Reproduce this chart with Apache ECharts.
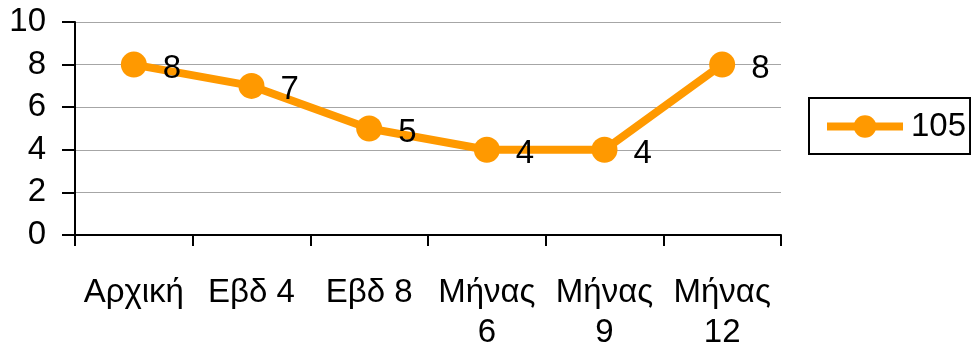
<!DOCTYPE html>
<html>
<head>
<meta charset="utf-8">
<style>
  html, body { margin: 0; padding: 0; background: #fff; }
  #chart { width: 971px; height: 351px; }
</style>
<script src="https://cdn.jsdelivr.net/npm/echarts@6/dist/echarts.min.js"></script>
</head>
<body>
<div id="chart"></div>
<script>
// Visit labels along the horizontal axis
const categories = ['Αρχική', 'Εβδ 4', 'Εβδ 8', 'Μήνας\n6', 'Μήνας\n9', 'Μήνας\n12'];
// Scores for subject 105 at each visit
const seriesName = '105';
const values = [8, 7, 5, 4, 4, 8];
// Vertical scale
const yMin = 0, yMax = 10, yStep = 2;

const FONT = '"Liberation Sans", Arial, sans-serif';
const ORANGE = '#FF9900';
const FS = 33;

const chart = echarts.init(document.getElementById('chart'), null, { renderer: 'canvas' });
chart.setOption({
  backgroundColor: '#fff',
  animation: false,
  textStyle: { fontFamily: FONT, color: '#000' },
  grid: { left: 75, right: 190, top: 22, bottom: 116, containLabel: false, outerBoundsMode: 'none' },
  legend: {
    left: 809, top: 98,
    orient: 'vertical',
    padding: [12, 4, 11, 14],
    borderColor: '#000', borderWidth: 2,
    itemWidth: 76, itemHeight: 28, itemGap: 0,
    itemStyle: { color: ORANGE },
    lineStyle: { width: 8, color: ORANGE },
    textStyle: { fontSize: FS, fontFamily: FONT, color: '#000', padding: [0, 0, 0, 3] },
    data: [seriesName]
  },
  xAxis: {
    type: 'category',
    data: categories,
    boundaryGap: true,
    axisLine: { lineStyle: { color: '#000', width: 2 } },
    axisTick: { show: true, alignWithLabel: false, interval: 0, length: 11, lineStyle: { color: '#000', width: 2 } },
    axisLabel: { interval: 0, fontSize: FS, fontFamily: FONT, color: '#000', margin: 38, lineHeight: 40 },
    splitLine: { show: false }
  },
  yAxis: {
    type: 'value',
    min: yMin, max: yMax, interval: yStep,
    axisLine: { show: true, lineStyle: { color: '#000', width: 2 } },
    axisTick: { show: true, length: 13, lineStyle: { color: '#000', width: 2 } },
    axisLabel: { fontSize: FS, fontFamily: FONT, color: '#000', margin: 29 },
    splitLine: { show: true, lineStyle: { color: '#a6a6a6', width: 1 } }
  },
  series: [{
    name: seriesName,
    type: 'line',
    data: values,
    color: ORANGE,
    lineStyle: { width: 8, color: ORANGE },
    symbol: 'circle',
    symbolSize: 26,
    itemStyle: { color: ORANGE },
    label: {
      show: true,
      position: 'right',
      distance: 16,
      offset: [0, 4],
      fontSize: FS,
      fontFamily: FONT,
      color: '#000'
    }
  }]
});
</script>
</body>
</html>
